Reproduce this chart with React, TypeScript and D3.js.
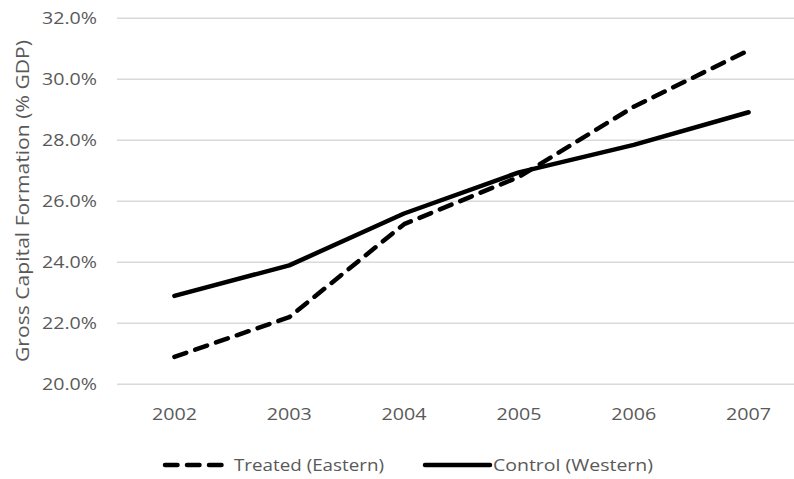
import React from "react";
import * as d3 from "d3";

const years = ["2002", "2003", "2004", "2005", "2006", "2007"];
const treated = [20.9, 22.2, 25.25, 26.8, 29.1, 30.95];
const control = [22.9, 23.9, 25.6, 26.95, 27.85, 28.92];
const yTicks = [20, 22, 24, 26, 28, 30, 32];
const seriesNames = ["Treated (Eastern)", "Control (Western)"];
const yTitle = "Gross Capital Formation (% GDP)";

const W = 794;
const H = 479;
const FONT = "'Open Sans', 'Noto Sans', sans-serif";
const GREY = "#595959";

export default function App() {
  const x = d3.scaleBand<string>().domain(years).range([117, 806]).padding(0);
  const y = d3.scaleLinear().domain([20, 32]).range([384.3, 18.3]);
  const cx = (yr: string) => (x(yr) as number) + x.bandwidth() / 2;
  const line = d3
    .line<number>()
    .x((_, i) => cx(years[i]))
    .y((d) => y(d));

  return (
    <svg
      width={W}
      height={H}
      style={{ position: "absolute", left: 0, top: 0, background: "#fff" }}
      fontFamily={FONT}
    >
      <rect width={W} height={H} fill="#fff" />
      {yTicks.map((t) => (
        <g key={t}>
          <line x1={117} x2={W} y1={y(t)} y2={y(t)} stroke="#d9d9d9" strokeWidth={1.6} />
          <text
            x={97}
            y={y(t)}
            dy="0.35em"
            textAnchor="end"
            fontSize={16.5}
            fill={GREY}
            textLength={55}
            lengthAdjust="spacingAndGlyphs"
          >
            {t.toFixed(1) + "%"}
          </text>
        </g>
      ))}
      {years.map((yr) => (
        <text
          key={yr}
          x={cx(yr)}
          y={420}
          textAnchor="middle"
          fontSize={16.5}
          fill={GREY}
          textLength={45}
          lengthAdjust="spacingAndGlyphs"
        >
          {yr}
        </text>
      ))}
      <text
        transform={`translate(29,201) rotate(-90)`}
        textAnchor="middle"
        fontSize={17.5}
        fill={GREY}
        textLength={322}
        lengthAdjust="spacingAndGlyphs"
      >
        {yTitle}
      </text>
      <path
        d={line(control) as string}
        fill="none"
        stroke="#000"
        strokeWidth={4.5}
        strokeLinecap="round"
        strokeLinejoin="round"
      />
      <path
        d={line(treated) as string}
        fill="none"
        stroke="#000"
        strokeWidth={4.5}
        strokeLinecap="round"
        strokeLinejoin="round"
        strokeDasharray="12.5 9.5"
      />
      <g>
        <line
          x1={165}
          x2={226}
          y1={465}
          y2={465}
          stroke="#000"
          strokeWidth={4.5}
          strokeLinecap="round"
          strokeDasharray="12.5 9.5"
        />
        <text
          x={234}
          y={465}
          dy="0.35em"
          fontSize={16.5}
          fill={GREY}
          textLength={150}
          lengthAdjust="spacingAndGlyphs"
        >
          {seriesNames[0]}
        </text>
        <line
          x1={425}
          x2={490}
          y1={465}
          y2={465}
          stroke="#000"
          strokeWidth={4.5}
          strokeLinecap="round"
        />
        <text
          x={493}
          y={465}
          dy="0.35em"
          fontSize={16.5}
          fill={GREY}
          textLength={160}
          lengthAdjust="spacingAndGlyphs"
        >
          {seriesNames[1]}
        </text>
      </g>
    </svg>
  );
}
